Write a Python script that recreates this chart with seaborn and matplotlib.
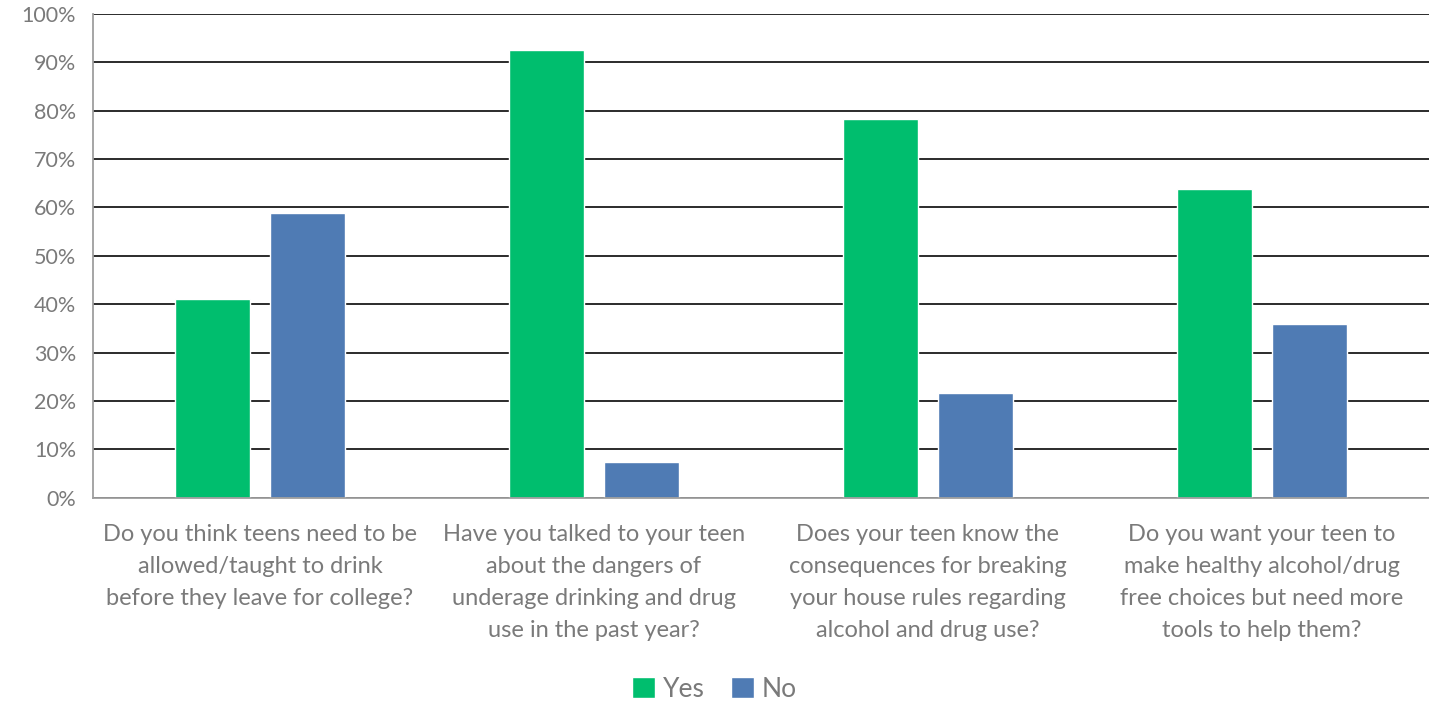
import pandas as pd
import matplotlib.pyplot as plt
import seaborn as sns
from matplotlib.ticker import PercentFormatter, FixedLocator

questions = [
    "Do you think teens need to be\nallowed/taught to drink\nbefore they leave for college?",
    "Have you talked to your teen\nabout the dangers of\nunderage drinking and drug\nuse in the past year?",
    "Does your teen know the\nconsequences for breaking\nyour house rules regarding\nalcohol and drug use?",
    "Do you want your teen to\nmake healthy alcohol/drug\nfree choices but need more\ntools to help them?",
]
yes_values = [41.0, 92.6, 78.2, 63.9]
no_values = [58.9, 7.3, 21.7, 36.0]
answers = ["Yes", "No"]
colors = {"Yes": "#00BE6E", "No": "#4F7BB4"}

df = pd.DataFrame({
    "Question": questions * 2,
    "Answer": ["Yes"] * 4 + ["No"] * 4,
    "Percent": yes_values + no_values,
})

sns.set_style("white")
plt.rcParams["font.family"] = ["Lato", "DejaVu Sans"]
text_grey = "#7a7a7a"

fig = plt.figure(figsize=(14.29, 7.01), dpi=100)
ax = fig.add_axes([0.065, 0.29, 0.935, 0.69])

sns.barplot(data=df, x="Question", y="Percent", hue="Answer",
            hue_order=answers, palette=colors, width=0.567, gap=0.21,
            saturation=1, ax=ax, zorder=3)

ax.set_ylim(0, 100)
ax.set_xlim(-0.5, 3.5)
ax.yaxis.set_major_locator(FixedLocator(range(0, 101, 10)))
ax.yaxis.set_major_formatter(PercentFormatter(decimals=0))
ax.grid(axis="y", color="#2b2b2b", linewidth=1.4, zorder=0)
ax.set_axisbelow(True)

# question labels, spaced out like the excel original
ax.set_xticks(range(len(questions)), labels=questions, linespacing=1.65,
              fontsize=17, color=text_grey, va="top")

# category boundary ticks like excel
ax.set_xticks([-0.5, 0.5, 1.5, 2.5, 3.5], minor=True)
ax.tick_params(axis="x", which="major", length=0, pad=19)
ax.tick_params(axis="x", which="minor", length=6, color="#9e9e9e", width=1.3)
ax.tick_params(axis="y", length=6, color="#9e9e9e", width=1.3,
               labelsize=15.5, labelcolor=text_grey, pad=6)

for side in ["top", "right"]:
    ax.spines[side].set_visible(False)
for side in ["left", "bottom"]:
    ax.spines[side].set_color("#9e9e9e")
    ax.spines[side].set_linewidth(1.3)
    ax.spines[side].set_zorder(4)

ax.set_xlabel("")
ax.set_ylabel("")

handles, labels = ax.get_legend_handles_labels()
ax.legend_.remove()
fig.legend(handles, labels, loc="lower center", bbox_to_anchor=(0.5, -0.035),
           ncol=2, frameon=False, fontsize=19, labelcolor=text_grey,
           handlelength=0.85, handleheight=0.85, handletextpad=0.3,
           columnspacing=1.0)

fig.savefig("out.png", dpi=100)
